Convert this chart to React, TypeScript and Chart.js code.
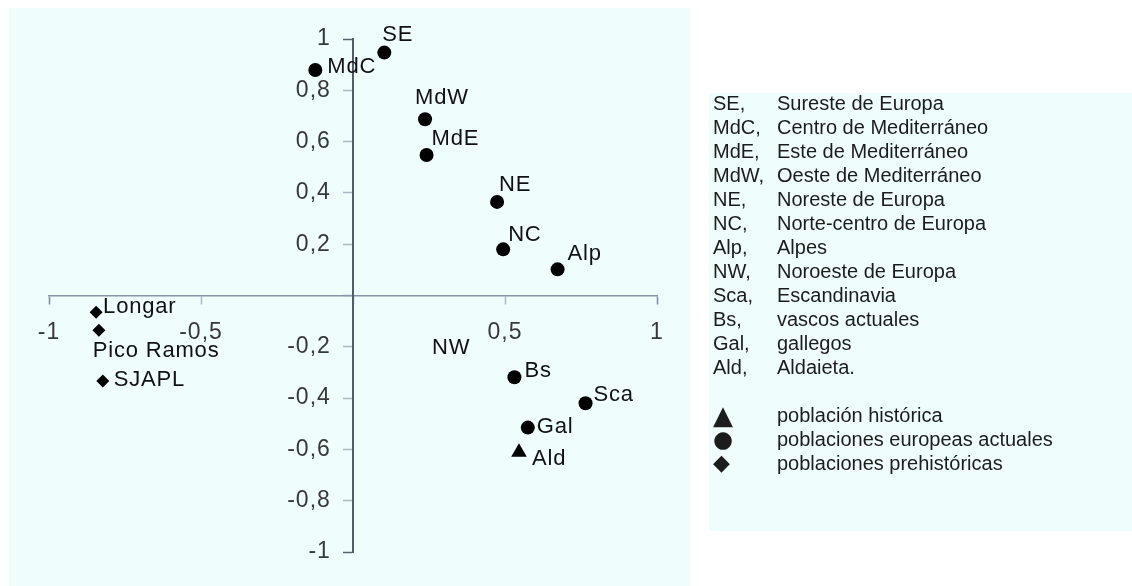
import React, { useEffect, useRef } from 'react';
import { Chart, registerables } from 'chart.js';

Chart.register(...registerables);

// ---------- data ----------
const modernNames = ['SE', 'MdC', 'MdW', 'MdE', 'NE', 'NC', 'Alp', 'Bs', 'Sca', 'Gal'];
const modernX = [0.103, -0.124, 0.237, 0.242, 0.474, 0.494, 0.673, 0.531, 0.765, 0.575];
const modernY = [0.947, 0.879, 0.687, 0.548, 0.365, 0.18, 0.102, -0.319, -0.42, -0.515];

const historicNames = ['Ald'];
const historicX = [0.546];
const historicY = [-0.611];

const prehistoricNames = ['Longar', 'Pico Ramos', 'SJAPL'];
const prehistoricX = [-0.845, -0.836, -0.823];
const prehistoricY = [-0.065, -0.135, -0.333];

// label shown without a marker in the original
const unmarkedNames = ['NW'];
const unmarkedX = [0.326];
const unmarkedY = [-0.205];

const xTicks = [-1, -0.5, 0, 0.5, 1];
const yTicks = [-1, -0.8, -0.6, -0.4, -0.2, 0, 0.2, 0.4, 0.6, 0.8, 1];

const legendAbbr = ['SE,', 'MdC,', 'MdE,', 'MdW,', 'NE,', 'NC,', 'Alp,', 'NW,', 'Sca,', 'Bs,', 'Gal,', 'Ald,'];
const legendDesc = [
  'Sureste de Europa',
  'Centro de Mediterráneo',
  'Este de Mediterráneo',
  'Oeste de Mediterráneo',
  'Noreste de Europa',
  'Norte-centro de Europa',
  'Alpes',
  'Noroeste de Europa',
  'Escandinavia',
  'vascos actuales',
  'gallegos',
  'Aldaieta.',
];
const legendSymbols = ['▲', '●', '◆'];
const legendSymbolText = ['población histórica', 'poblaciones europeas actuales', 'poblaciones prehistóricas'];

// ---------- styles (label placement relative to marker, px) ----------
const labelOffsets: Record<string, [number, number]> = {
  SE: [-2, -18],
  MdC: [12, -3],
  MdW: [-10, -21],
  MdE: [5, -16],
  NE: [2, -17],
  NC: [5, -14],
  Alp: [10, -15],
  NW: [-20, 0],
  Bs: [10, -6],
  Sca: [8, -8],
  Gal: [9, -1],
  Ald: [13, 7],
  Longar: [7, -5],
  'Pico Ramos': [-6, 21],
  SJAPL: [11, -1],
};
const symbolSizes = [26, 23, 22];

const FONT = '"Liberation Sans", Arial, Helvetica, sans-serif';
const PANEL = '#effdfd';
const Y_LABEL_GAP = '\u00a0\u00a0\u00a0';

const fmt = (v: number) => {
  if (Math.abs(v) < 1e-9) return '';
  const r = Math.round(v * 10) / 10;
  return String(r).replace('.', ',');
};

const datasetNames = [modernNames, historicNames, prehistoricNames, unmarkedNames];

const pointLabelPlugin = {
  id: 'pointLabels',
  beforeDraw(chart: any) {
    chart.ctx.letterSpacing = '1px';
  },
  afterDatasetsDraw(chart: any) {
    const ctx = chart.ctx;
    ctx.save();
    ctx.font = `22px ${FONT}`;
    ctx.letterSpacing = '0.8px';
    ctx.fillStyle = '#111111';
    ctx.textAlign = 'left';
    ctx.textBaseline = 'middle';
    chart.data.datasets.forEach((_ds: any, di: number) => {
      const meta = chart.getDatasetMeta(di);
      const names = datasetNames[di];
      meta.data.forEach((el: any, i: number) => {
        const name = names[i];
        const off = labelOffsets[name] || [8, 0];
        ctx.fillText(name, el.x + off[0], el.y + off[1]);
      });
    });
    ctx.restore();
  },
  afterDraw(chart: any) {
    chart.ctx.letterSpacing = '0px';
  },
};

const toPoints = (xs: number[], ys: number[]) => xs.map((x, i) => ({ x, y: ys[i] }));

const endTick = (v: number) => Math.abs(Math.abs(v) - 1) < 1e-6;

export default function App() {
  const ref = useRef<HTMLCanvasElement | null>(null);

  useEffect(() => {
    if (!ref.current) return;
    const chart = new Chart(ref.current, {
      type: 'scatter',
      data: {
        datasets: [
          {
            label: 'poblaciones europeas actuales',
            data: toPoints(modernX, modernY),
            pointStyle: 'circle',
            pointRadius: 7,
            pointBorderWidth: 0,
            backgroundColor: '#000',
            borderColor: '#000',
          },
          {
            label: 'población histórica',
            data: toPoints(historicX, historicY),
            pointStyle: 'triangle',
            pointRadius: 9,
            pointBorderWidth: 0,
            backgroundColor: '#000',
            borderColor: '#000',
          },
          {
            label: 'poblaciones prehistóricas',
            data: toPoints(prehistoricX, prehistoricY),
            pointStyle: 'rectRot',
            pointRadius: 6.5,
            pointBorderWidth: 0,
            backgroundColor: '#000',
            borderColor: '#000',
          },
          {
            label: 'NW',
            data: toPoints(unmarkedX, unmarkedY),
            pointRadius: 0,
            backgroundColor: 'rgba(0,0,0,0)',
            borderColor: 'rgba(0,0,0,0)',
          },
        ],
      },
      options: {
        responsive: false,
        animation: false,
        events: [],
        layout: { padding: { left: 49, top: 39, right: 475, bottom: 34 } },
        plugins: { legend: { display: false }, tooltip: { enabled: false } },
        scales: {
          x: {
            type: 'linear',
            min: -1,
            max: 1,
            position: { y: 0 } as any,
            afterFit: (s: any) => {
              s.height = 0;
            },
            afterBuildTicks: (s: any) => {
              s.ticks = xTicks.map((value) => ({ value }));
            },
            grid: {
              drawOnChartArea: false,
              drawTicks: true,
              tickLength: 8,
              tickWidth: 1.5,
              tickColor: (c: any) => (c.tick && endTick(c.tick.value) ? '#7d8a9c' : '#a9b7c6'),
            },
            border: { display: true, color: '#8794a6', width: 1.5 },
            ticks: {
              padding: 15,
              color: '#383838',
              font: { size: 23, family: FONT },
              maxRotation: 0,
              autoSkip: false,
              callback: (v: any) => fmt(Number(v)),
            },
          },
          y: {
            type: 'linear',
            min: -1,
            max: 1,
            position: { x: 0 } as any,
            afterFit: (s: any) => {
              s.width = 0;
            },
            afterBuildTicks: (s: any) => {
              s.ticks = yTicks.map((value) => ({ value }));
            },
            grid: {
              drawOnChartArea: false,
              drawTicks: true,
              tickLength: 9,
              tickWidth: 1.5,
              tickColor: (c: any) => (c.tick && endTick(c.tick.value) ? '#566070' : '#a9b7c6'),
            },
            border: { display: true, color: '#525b68', width: 2 },
            ticks: {
              padding: 12,
              color: '#383838',
              font: { size: 23, family: FONT },
              autoSkip: false,
              callback: (v: any) => {
                const t = fmt(Number(v));
                return t ? t + Y_LABEL_GAP : '';
              },
            },
          },
        },
      },
      plugins: [pointLabelPlugin],
    });
    return () => chart.destroy();
  }, []);

  return (
    <div style={{ position: 'absolute', left: 0, top: 0, width: 1132, height: 586, background: '#fff', overflow: 'hidden' }}>
      <div style={{ position: 'absolute', left: 9, top: 8, width: 681, height: 578, background: PANEL }} />
      <div style={{ position: 'absolute', left: 709, top: 93, width: 423, height: 438, background: PANEL }} />
      <canvas ref={ref} width={1132} height={586} style={{ position: 'absolute', left: 0, top: 0, width: 1132, height: 586 }} />
      <div
        style={{
          position: 'absolute',
          left: 713,
          top: 91,
          font: `20px ${FONT}`,
          lineHeight: '24px',
          color: '#1c1c1c',
          whiteSpace: 'nowrap',
        }}
      >
        {legendAbbr.map((a, i) => (
          <div key={a} style={{ display: 'flex', height: 24 }}>
            <span style={{ width: 64, display: 'inline-block' }}>{a}</span>
            <span>{legendDesc[i]}</span>
          </div>
        ))}
        <div style={{ height: 24 }} />
        {legendSymbols.map((s, i) => (
          <div key={s} style={{ display: 'flex', height: 24, alignItems: 'center' }}>
            <span
              style={{
                width: 64,
                height: 24,
                display: 'inline-flex',
                alignItems: 'center',
                overflow: 'visible',
                fontFamily: '"DejaVu Sans", sans-serif',
                fontSize: symbolSizes[i],
                lineHeight: '24px',
              }}
            >
              {s}
            </span>
            <span>{legendSymbolText[i]}</span>
          </div>
        ))}
      </div>
    </div>
  );
}
